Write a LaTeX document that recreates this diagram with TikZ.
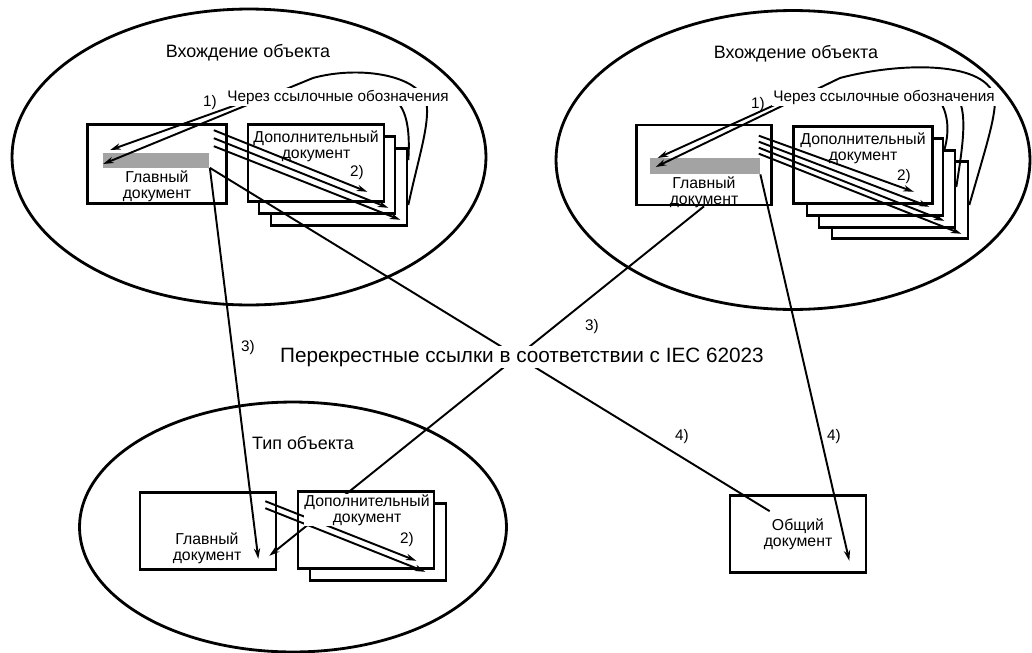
\documentclass[tikz,border=0pt]{standalone}
\usepackage{fontspec}
\setmainfont{Liberation Sans}
\usetikzlibrary{arrows.meta,shapes.geometric}
\definecolor{BandGray}{HTML}{A3A3A3}

\tikzset{
  objring/.style={draw,ellipse,line width=1.6pt,inner sep=0pt},
  docbox/.style={draw,line width=1.5pt,fill=white,minimum width=2.72cm,minimum height=1.54cm,inner sep=0pt},
  band/.style={fill=BandGray,inner sep=0pt,minimum height=0.3cm},
  doctext/.style={font=\fontsize{9}{9}\selectfont,align=center,inner sep=0.5pt},
  tag/.style={font=\fontsize{8.7}{10}\selectfont,inner sep=0.8pt},
  ttl/.style={font=\fontsize{10.2}{12}\selectfont,inner sep=1pt},
  reflink/.style={line width=1.1pt,-{Stealth[length=6pt,width=3.6pt]}},
  xref/.style={line width=1.1pt},
}

\begin{document}
\begin{tikzpicture}[x=0.02cm,y=-0.02cm]
\path[use as bounding box] (0,0) rectangle (1032,653);
\node[objring,minimum width=9.48cm,minimum height=5.92cm] (occL) at (249,157) {};
\node[objring,minimum width=9.48cm,minimum height=5.98cm] (occR) at (793,160) {};
\node[objring,minimum width=8.54cm,minimum height=5cm] (typeB) at (293,527) {};

\node[docbox] (addL3) at (339,187) {};
\node[docbox] (addL2) at (327,175) {};
\node[docbox] (addL1) at (316,163) {};
\node[docbox,minimum width=2.78cm,minimum height=1.58cm] (mainL) at (157,164) {};
\node[band,minimum width=2.14cm] (bandL) at (156,160) {};

\node[docbox] (addR4) at (900,200) {};
\node[docbox] (addR3) at (887,189) {};
\node[docbox] (addR2) at (875,177) {};
\node[docbox,minimum width=2.78cm] (addR1) at (863,165) {};
\node[docbox,minimum width=2.7cm,minimum height=1.6cm] (mainR) at (704,165) {};
\node[band,minimum width=2.2cm,minimum height=0.32cm] (bandR) at (705,166) {};

\node[docbox] (addB2) at (378,542) {};
\node[docbox] (addB1) at (366,530) {};
\node[docbox] (mainB) at (208,531) {};
\node[docbox] (genDoc) at (798,534) {};

\coordinate (joinL) at (250,100);
\coordinate (joinR) at (790,98);
\coordinate (tailR) at (938,98);

\draw[reflink] ([shift={(-14,7)}]mainL.north east) -- ([shift={(-18,-11)}]addL1.south east);
\draw[reflink] ([shift={(-14,15)}]mainL.north east) -- ([shift={(-8,-7)}]addL2.south east);
\draw[reflink] ([shift={(-14,23)}]mainL.north east) -- ([shift={(-8,-7)}]addL3.south east);
\draw[reflink] ([shift={(0,18)}]addL3.east) .. controls (418,160) and (428,130) .. (427,108)
  .. controls (425,75) and (360,65) .. (313,78) -- ([shift={(1,4)}]bandL.west);
\draw[reflink] ([shift={(0,-27)}]addL3.east) .. controls (410,135) and (408,110) .. (395,100)
  -- (joinL) -- ([shift={(8,-10)}]bandL.west);

\draw[reflink] ([shift={(-14,12)}]mainR.north east) -- ([shift={(-20,-13)}]addR1.south east);
\draw[reflink] ([shift={(-14,18)}]mainR.north east) -- ([shift={(-15,-10)}]addR2.south east);
\draw[reflink] ([shift={(-14,24)}]mainR.north east) -- ([shift={(-12,-8)}]addR3.south east);
\draw[reflink] ([shift={(-14,30)}]mainR.north east) -- ([shift={(-8,-6)}]addR4.south east);
\draw[reflink] ([shift={(0,5)}]addR4.east) .. controls (985,150) and (995,120) .. (995,100)
  .. controls (990,60) and (900,62) .. (840,78) -- ([shift={(6,1)}]bandR.west);
\draw[reflink] ([shift={(0,-2)}]addR3.east) .. controls (962,150) and (968,115) .. (958,98)
  -- (joinR) -- ([shift={(8,-8)}]bandR.west);
\draw[xref] ([shift={(0,-27)}]addR2.east) .. controls (950,130) and (948,112) .. (tailR);

\draw[reflink] ([shift={(-12,10)}]mainB.north east) -- ([shift={(-19,-9)}]addB1.south east);
\draw[reflink] ([shift={(-12,17)}]mainB.north east) -- ([shift={(-22,-10)}]addB2.south east);

\draw[xref] (bandL.south east) -- ([shift={(41,17)}]genDoc.north west);
\draw[reflink] (bandL.south east) -- ([shift={(-19,-12)}]mainB.south east);
\draw[reflink] (mainR.south) -- ([shift={(-8,-15)}]mainB.south east);
\draw[reflink] (bandR.south east) -- ([shift={(-18,-13)}]genDoc.south east);

\node[ttl] (ttlL) at (248,53) {Вхождение объекта};
\node[ttl] (ttlR) at (796,54) {Вхождение объекта};
\node[ttl] (ttlB) at (303,443) {Тип объекта};
\node[tag,fill=white] (viaL) at (338,97) {Через ссылочные обозначения};
\node[tag,fill=white] (viaR) at (884,97) {Через ссылочные обозначения};
\node[tag] (n1L) at (210,103) {1)};
\node[tag] (n1R) at (758,105) {1)};
\node[tag] (n2L) at (357,173) {2)};
\node[tag] (n2R) at (904,177) {2)};
\node[tag] (n2B) at (407,540) {2)};
\node[tag] (n3L) at (248,348) {3)};
\node[tag] (n3R) at (592,327) {3)};
\node[tag] (n4L) at (682,437) {4)};
\node[tag] (n4R) at (834,437) {4)};

\node[doctext] (txtMainL) at (157,186) {Главный\\документ};
\node[doctext] (txtAddL) at (316,146) {Дополнительный\\документ};
\node[doctext] (txtMainR) at (704,192) {Главный\\документ};
\node[doctext] (txtAddR) at (863,148) {Дополнительный\\документ};
\node[doctext] (txtMainB) at (207,548) {Главный\\документ};
\node[doctext,fill=white] (txtAddB) at (367,510) {Дополнительный\\документ};
\node[doctext,fill=white] (txtGen) at (798,534) {Общий\\документ};

\node[font=\fontsize{11.8}{12}\selectfont,fill=white,inner sep=1pt] (xrefLbl) at (522,357) {Перекрестные ссылки в соответствии с IEC 62023};
\end{tikzpicture}
\end{document}
